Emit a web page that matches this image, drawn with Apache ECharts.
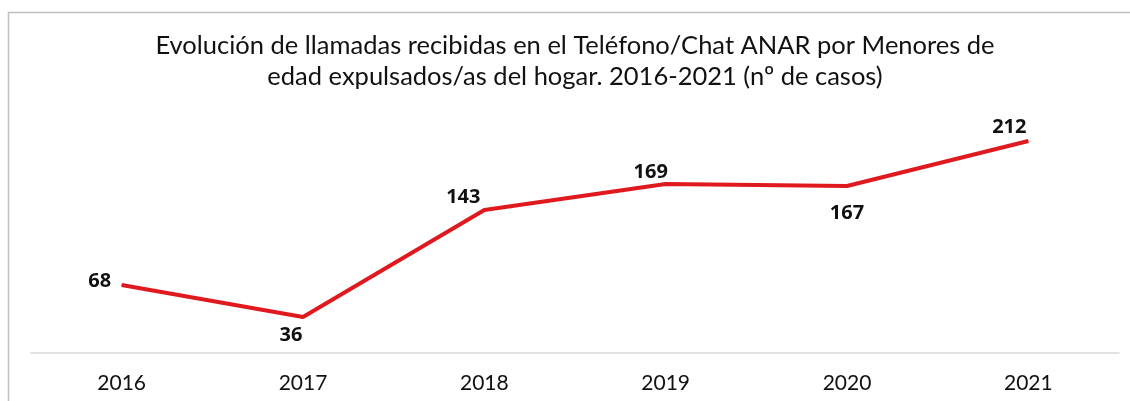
<!DOCTYPE html>
<html>
<head>
<meta charset="utf-8">
<script src="https://cdn.jsdelivr.net/npm/echarts@6/dist/echarts.min.js"></script>
<style>
  html, body { margin: 0; padding: 0; background: #fff; }
  #main { width: 1130px; height: 401px; }
</style>
</head>
<body>
<div id="main"></div>
<script>
// datos
const years = ['2016', '2017', '2018', '2019', '2020', '2021'];
const casos = [68, 36, 143, 169, 167, 212];
// posición de cada etiqueta respecto al punto
const labelPos = ['left', 'bottom', 'top', 'top', 'bottom', 'top'];
const labelOffset = [[-4, -4], [-12, 2], [-21, 4], [-15, 5], [0, 11], [-19, 3]];

const chart = echarts.init(document.getElementById('main'));

const option = {
    backgroundColor: '#fff',
    title: {
        text: 'Evolución de llamadas recibidas en el Teléfono/Chat ANAR por Menores de\nedad expulsados/as del hogar. 2016-2021 (nº de casos)',
        left: 570,
        textAlign: 'center',
        top: 25,
        textStyle: {
            fontFamily: 'Lato',
            fontWeight: 'normal',
            fontSize: 25.5,
            lineHeight: 31,
            color: '#111'
        }
    },
    graphic: [{
        type: 'polyline',
        shape: { points: [[8.5, 401], [8.5, 12.5], [1130, 12.5]] },
        style: { stroke: '#c0c0c0', lineWidth: 1.5, fill: null }
    }],
    grid: {
        left: 31,
        right: 11,
        top: 103,
        bottom: 48
    },
    xAxis: {
        type: 'category',
        data: years,
        boundaryGap: true,
        axisLine: { lineStyle: { color: '#d9d9d9', width: 1.5 } },
        axisTick: { show: false },
        axisLabel: {
            fontFamily: 'Lato',
            fontSize: 21,
            color: '#111',
            margin: 20
        }
    },
    yAxis: {
        type: 'value',
        min: 0,
        max: 250,
        show: false,
        splitLine: { show: false }
    },
    series: [{
        type: 'line',
        data: casos.map((v, i) => ({
            value: v,
            label: { position: labelPos[i], offset: labelOffset[i] }
        })),
        symbol: 'circle',
        symbolSize: 1,
        showSymbol: true,
        itemStyle: { color: '#e0191f' },
        lineStyle: { color: '#e0191f', width: 4 },
        label: {
            show: true,
            fontFamily: 'Open Sans',
            fontWeight: 'bold',
            fontSize: 20,
            color: '#111',
            distance: 6
        }
    }]
};

chart.setOption(option);
</script>
</body>
</html>
